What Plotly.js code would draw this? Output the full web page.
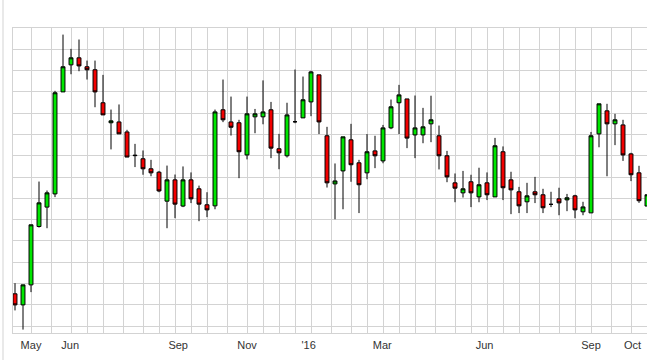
<!DOCTYPE html>
<html><head><meta charset="utf-8">
<script src="https://cdn.plot.ly/plotly-3.0.1.min.js"></script>
<style>html,body{margin:0;padding:0;background:#fff;}#chart{width:647px;height:360px;}</style>
</head><body><div id="chart"></div>
<script>
const openP  = [11.52,11.00,11.94,14.68,15.59,16.21,21.00,22.27,22.60,22.18,22.04,20.49,19.55,19.59,19.12,18.03,17.86,17.39,17.23,15.87,16.87,15.64,16.87,16.45,15.70,15.65,20.16,19.59,19.55,18.04,19.83,19.83,20.16,18.33,18.00,19.60,19.78,20.53,21.80,18.94,16.68,17.29,18.75,17.67,17.20,18.23,17.76,19.31,20.49,20.67,18.98,18.98,19.50,18.94,18.00,16.73,16.26,16.78,16.07,16.73,16.07,18.19,16.87,16.31,15.84,16.31,16.17,15.72,15.98,15.93,16.12,15.37,15.32,19.03,20.11,19.50,19.45,18.09,17.20,15.64];
const highP  = [12.02,11.95,14.76,16.79,16.37,21.05,23.69,23.02,23.46,22.47,22.47,21.80,20.17,20.41,19.22,18.56,18.25,17.81,17.29,17.54,17.12,17.50,17.22,16.60,16.29,20.17,21.58,20.78,19.69,20.78,20.20,21.54,20.53,19.03,20.49,22.05,21.72,21.99,21.80,19.36,17.64,18.89,19.50,17.81,19.02,18.94,19.45,20.64,21.33,20.67,20.83,20.25,20.82,19.42,18.23,17.17,17.29,17.11,17.44,17.22,18.84,18.44,17.25,16.54,16.73,17.01,16.45,16.31,16.50,16.21,16.17,15.84,19.12,20.44,20.44,19.97,19.69,18.14,17.53,16.17];
const lowP   = [10.74,9.84,11.60,14.63,14.60,16.06,21.00,21.83,21.97,21.58,20.28,19.92,18.30,19.03,17.94,17.47,17.11,17.04,16.29,14.60,15.07,15.59,15.78,14.93,15.12,15.49,19.58,18.95,16.95,17.83,19.06,19.48,17.89,17.37,17.92,19.53,19.78,19.86,19.02,16.51,15.02,15.49,16.78,15.31,16.90,17.42,17.65,19.25,19.02,18.36,17.89,18.59,18.64,17.36,16.76,15.82,16.04,15.59,15.82,15.92,16.07,15.92,15.26,15.31,15.31,15.78,15.31,15.59,15.21,15.40,15.07,15.21,15.32,18.40,17.04,18.50,17.76,16.81,15.79,15.64];
const closeP = [11.00,11.94,14.76,15.79,16.26,20.96,22.18,22.60,22.22,22.04,21.00,19.92,19.64,19.03,17.94,18.01,17.39,17.20,16.35,16.87,15.73,16.87,15.98,15.73,15.46,20.06,19.69,19.34,18.19,19.97,19.97,20.06,18.36,18.14,19.92,19.60,20.63,21.94,19.59,16.73,16.82,18.89,17.58,16.64,18.19,18.00,19.31,20.30,20.86,18.83,19.31,19.36,19.69,18.00,17.01,16.48,16.45,16.26,16.64,16.17,18.47,16.50,16.40,15.65,16.12,16.17,15.56,15.72,15.79,16.03,15.46,15.60,18.94,20.44,19.50,19.69,18.04,17.11,15.89,16.17];
const monthLabels = ['May','Jun','Sep','Nov',"'16",'Mar','Jun','Sep','Oct'];
const monthTicks  = [2, 6.9, 20.4, 29, 36.7, 45.9, 58.7, 72, 77.2];
const gridTicks   = [2,4.5,7,9,11,13.5,16,18,20,22,24,26.5,29,31,33,35,37,39.5,42,44,46,48,50,52.5,55,57,59,61,63,65.5,68,70,72,74.5,77];

const weekIndex = openP.map((_, i) => i);
const GRID = '#d3d3d3';

const trace = {
  type: 'candlestick',
  x: weekIndex, open: openP, high: highP, low: lowP, close: closeP,
  increasing: {fillcolor: '#00e600', line: {color: '#000', width: 1}},
  decreasing: {fillcolor: '#f20000', line: {color: '#000', width: 1}},
  whiskerwidth: 0, hoverinfo: 'none', showlegend: false
};

const layout = {
  width: 647, height: 360,
  margin: {l: 13, r: 0, t: 28, b: 27, pad: 0},
  paper_bgcolor: '#fff', plot_bgcolor: '#fff',
  showlegend: false,
  xaxis: {
    type: 'linear', range: [-0.25, 79], fixedrange: true,
    tickmode: 'array', tickvals: monthTicks, ticktext: monthLabels,
    showgrid: false, zeroline: false, ticks: '', ticklabelstandoff: 2,
    showline: true, mirror: true, linecolor: GRID, linewidth: 1,
    tickfont: {family: 'Liberation Sans, Arial, sans-serif', size: 11, color: '#333'},
    rangeslider: {visible: false},
    minor: {tickmode: 'array', tickvals: gridTicks, showgrid: true, gridcolor: GRID, gridwidth: 1, ticks: ''}
  },
  yaxis: {
    range: [9.68, 24], dtick: 1, tick0: 0, fixedrange: true,
    showticklabels: false, showgrid: true, gridcolor: GRID, gridwidth: 1,
    zeroline: false, showline: true, mirror: true, linecolor: GRID, ticks: ''
  },
  shapes: [{type: 'line', xref: 'paper', yref: 'paper', x0: -0.01577, x1: -0.01577, y0: -0.09, y1: 1.1,
            line: {color: GRID, width: 1}}]
};

Plotly.newPlot('chart', [trace], layout, {displayModeBar: false, staticPlot: true});
</script></body></html>
